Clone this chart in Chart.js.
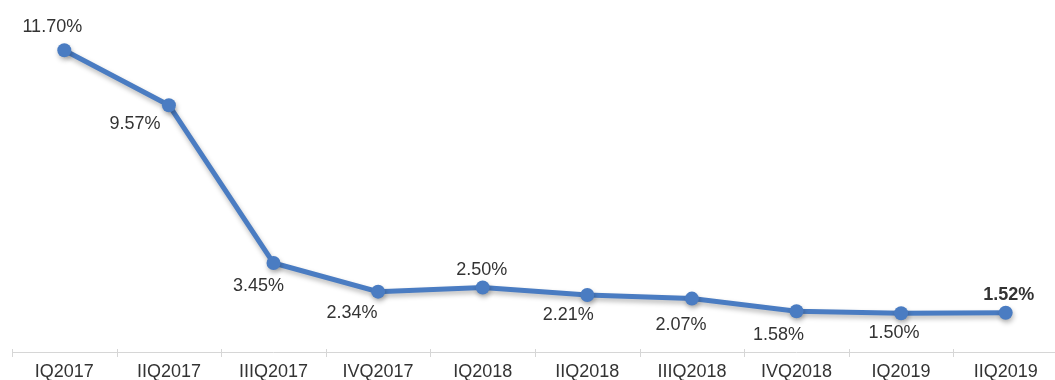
<!DOCTYPE html>
<html>
<head>
<meta charset="utf-8">
<script src="https://cdn.jsdelivr.net/npm/chart.js@4/dist/chart.umd.min.js"></script>
<style>
  html, body { margin: 0; padding: 0; background: #ffffff; overflow: hidden; }
  #wrap { position: relative; width: 1058px; height: 380px; }
</style>
</head>
<body>
<div id="wrap"><canvas id="chart"></canvas></div>
<script>
// Quarterly rate, in percent
const quarters = ['IQ2017', 'IIQ2017', 'IIIQ2017', 'IVQ2017', 'IQ2018', 'IIQ2018', 'IIIQ2018', 'IVQ2018', 'IQ2019', 'IIQ2019'];
const rates = [11.70, 9.57, 3.45, 2.34, 2.50, 2.21, 2.07, 1.58, 1.50, 1.52];
const valueLabels = ['11.70%', '9.57%', '3.45%', '2.34%', '2.50%', '2.21%', '2.07%', '1.58%', '1.50%', '1.52%'];

// Where each value label sits relative to its point (dx, dy), and which one is emphasised
const labelOffsets = [[-12, -23], [-34, 19], [-15, 23], [-26, 21], [-1, -17], [-19, 20], [-11, 26], [-18, 24], [-7, 20], [3, -18]];
const boldLabelIndex = 9;

const LINE_BLUE = '#4a7cc2';
const FONT = '"Liberation Sans", Arial, sans-serif';

// Soft drop shadow under the line
const shadowPlugin = {
  id: 'lineShadow',
  beforeDatasetDraw(chart) {
    const ctx = chart.ctx;
    ctx.save();
    ctx.shadowColor = 'rgba(0,0,0,0.28)';
    ctx.shadowBlur = 5;
    ctx.shadowOffsetX = 1;
    ctx.shadowOffsetY = 3;
  },
  afterDatasetDraw(chart) {
    chart.ctx.restore();
  }
};

// Value labels next to each point
const valueLabelPlugin = {
  id: 'valueLabels',
  afterDatasetsDraw(chart) {
    const ctx = chart.ctx;
    const meta = chart.getDatasetMeta(0);
    ctx.save();
    ctx.fillStyle = '#333333';
    ctx.textAlign = 'center';
    ctx.textBaseline = 'middle';
    meta.data.forEach((pt, i) => {
      const [dx, dy] = labelOffsets[i];
      ctx.font = (i === boldLabelIndex ? 'bold ' : '') + '18px ' + FONT;
      ctx.fillText(valueLabels[i], pt.x + dx, pt.y + dy);
    });
    ctx.restore();
  }
};

// Baseline with small tick marks between categories
const baselineTicks = {
  id: 'baselineTicks',
  afterDraw(chart) {
    const ctx = chart.ctx;
    const xs = chart.scales.x;
    const y0 = Math.round(chart.chartArea.bottom);
    ctx.save();
    ctx.strokeStyle = '#d6d6d6';
    ctx.lineWidth = 1;
    ctx.beginPath();
    ctx.moveTo(chart.chartArea.left, y0 + 0.5);
    ctx.lineTo(chart.chartArea.right, y0 + 0.5);
    const step = xs.getPixelForValue(1) - xs.getPixelForValue(0);
    for (let i = 0; i <= quarters.length; i++) {
      const x = Math.round(xs.getPixelForValue(0) - step / 2 + i * step) + 0.5;
      ctx.moveTo(x, y0 - 3);
      ctx.lineTo(x, y0 + 5);
    }
    ctx.stroke();
    ctx.restore();
  }
};

new Chart(document.getElementById('chart'), {
  type: 'line',
  data: {
    labels: quarters,
    datasets: [{
      data: rates,
      borderColor: LINE_BLUE,
      backgroundColor: LINE_BLUE,
      borderWidth: 5,
      pointRadius: 7,
      pointHoverRadius: 7,
      pointBorderWidth: 0,
      pointBackgroundColor: LINE_BLUE,
      tension: 0,
      clip: false
    }]
  },
  options: {
    responsive: true,
    maintainAspectRatio: false,
    animation: false,
    events: [],
    layout: { autoPadding: false, padding: { left: 12, right: 0, top: 0, bottom: 0 } },
    plugins: {
      legend: { display: false },
      tooltip: { enabled: false }
    },
    scales: {
      x: {
        offset: true,
        border: { display: false },
        grid: { display: false, drawTicks: false },
        ticks: {
          color: '#333333',
          font: { family: FONT, size: 18, lineHeight: 1 },
          padding: 11,
          maxRotation: 0,
          autoSkip: false
        },
        afterFit(scale) { scale.height = 28; }
      },
      y: {
        display: false,
        min: 0,
        max: 13.65
      }
    }
  },
  plugins: [shadowPlugin, valueLabelPlugin, baselineTicks]
});
</script>
</body>
</html>
